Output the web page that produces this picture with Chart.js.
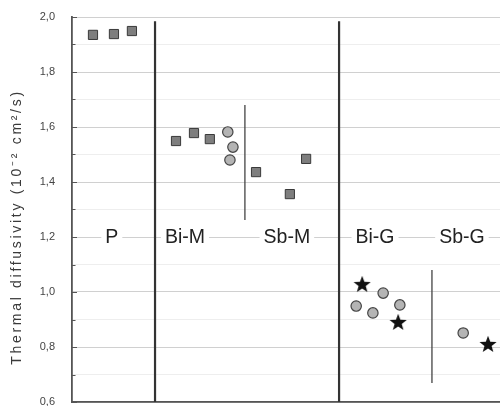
<!DOCTYPE html>
<html>
<head>
<meta charset="utf-8">
<script src="https://cdn.jsdelivr.net/npm/chart.js@4"></script>
<style>
  html, body { margin: 0; padding: 0; background: #fff; }
  #wrap { width: 500px; height: 406px; }
</style>
</head>
<body>
<div id="wrap"><canvas id="chart"></canvas></div>
<script>
// groups and their labels
const groupNames = ['P', 'Bi-M', 'Sb-M', 'Bi-G', 'Sb-G'];
const groupLabelX = [0.93, 2.64, 5.02, 7.08, 9.11];
const groupLabelY = 1.2;

// grey squares
const squareX = [0.49, 0.98, 1.40, 2.43, 2.85, 3.22, 4.30, 5.09, 5.47];
const squareY = [1.935, 1.938, 1.949, 1.549, 1.578, 1.556, 1.436, 1.356, 1.484];

// light grey circles
const circleX = [3.64, 3.76, 3.69, 6.64, 7.03, 7.27, 7.66, 9.14];
const circleY = [1.582, 1.527, 1.480, 0.949, 0.924, 0.996, 0.953, 0.851];

// black stars
const starX = [6.78, 7.62, 9.72];
const starY = [1.029, 0.891, 0.811];

// separators
const thickSepX = [1.94, 6.24];
const thickSepTop = 1.985;
const thinSepX = [4.04, 8.41];
const thinSepTop = [1.68, 1.08];
const thinSepBottom = [1.262, 0.669];

// y axis
const yMin = 0.6, yMax = 2.0, yStep = 0.1;
const yTitle = 'Thermal diffusivity (10\u207B\u00B2 cm\u00B2/s)';

const FONT = '"Liberation Sans", Arial, sans-serif';

function pts(xs, ys) { return xs.map((x, i) => ({ x: x, y: ys[i] })); }

// filled five point star as point image
function makeStar(size) {
    const c = document.createElement('canvas');
    c.width = size; c.height = size;
    const g = c.getContext('2d');
    const cx = size / 2, cy = size / 2 + 0.8, R = size / 2, r = R * 0.42;
    g.beginPath();
    for (let i = 0; i < 10; i++) {
        const a = -Math.PI / 2 + i * Math.PI / 5;
        const rad = i % 2 === 0 ? R : r;
        g.lineTo(cx + rad * Math.cos(a), cy + rad * Math.sin(a));
    }
    g.closePath();
    g.fillStyle = '#111';
    g.fill();
    return c;
}
const starImg = makeStar(18);

const datasets = [];
thickSepX.forEach(x => datasets.push({
    type: 'line', data: [{ x: x, y: thickSepTop }, { x: x, y: yMin }],
    borderColor: '#333', borderWidth: 2.2, pointRadius: 0, order: 5
}));
thinSepX.forEach((x, i) => datasets.push({
    type: 'line', data: [{ x: x, y: thinSepTop[i] }, { x: x, y: thinSepBottom[i] }],
    borderColor: '#444', borderWidth: 1.3, pointRadius: 0, order: 5
}));
datasets.push({
    label: 'squares', data: pts(squareX, squareY), pointStyle: 'rect', pointRadius: 6.5,
    backgroundColor: '#7e7e7e', borderColor: '#3a3a3a', borderWidth: 1, order: 1
});
datasets.push({
    label: 'circles', data: pts(circleX, circleY), pointStyle: 'circle', pointRadius: 5.2,
    backgroundColor: '#b4b4b4', borderColor: '#444', borderWidth: 1.2, order: 1
});
datasets.push({
    label: 'stars', data: pts(starX, starY), pointStyle: starImg, pointRadius: 9,
    order: 1
});

// group labels with white box behind, inward tick marks, axis title
const annotate = {
    id: 'annotate',
    afterDraw(chart) {
        const { ctx, scales: { x, y }, chartArea } = chart;
        ctx.save();
        // inward ticks
        ctx.strokeStyle = '#555';
        ctx.lineWidth = 1;
        for (let v = yMin; v <= yMax + 1e-9; v += yStep) {
            const py = Math.round(y.getPixelForValue(v)) + 0.5;
            const major = Math.round(v * 10) % 2 === 0;
            ctx.beginPath();
            ctx.moveTo(chartArea.left, py);
            ctx.lineTo(chartArea.left + (major ? 5 : 3.5), py);
            ctx.stroke();
        }
        ctx.font = '19.5px ' + FONT;
        ctx.textAlign = 'center';
        ctx.textBaseline = 'middle';
        groupNames.forEach((name, i) => {
            const px = x.getPixelForValue(groupLabelX[i]);
            const py = y.getPixelForValue(groupLabelY);
            const w = ctx.measureText(name).width;
            ctx.fillStyle = '#fff';
            ctx.fillRect(px - w / 2 - 4, py - 11, w + 8, 22);
            ctx.fillStyle = '#222';
            ctx.fillText(name, px, py + 1);
        });
        // y title, spaced out like the original
        ctx.translate(17, 227);
        ctx.rotate(-Math.PI / 2);
        ctx.font = '14px ' + FONT;
        ctx.letterSpacing = '2.7px';
        ctx.fillStyle = '#3a3a3a';
        ctx.fillText(yTitle, 0, 0);
        ctx.restore();
    }
};

new Chart(document.getElementById('chart'), {
    type: 'scatter',
    data: { datasets: datasets },
    plugins: [annotate],
    options: {
        responsive: true,
        maintainAspectRatio: false,
        animation: false,
        layout: { autoPadding: false, padding: { top: 17, right: 0, bottom: 0, left: 0 } },
        plugins: { legend: { display: false }, tooltip: { enabled: false } },
        scales: {
            x: {
                type: 'linear', min: 0, max: 10,
                ticks: { display: false },
                grid: { display: false },
                border: { display: true, color: '#555', width: 1.8 },
                afterFit(scale) {
                    scale.height = 4;
                    scale.paddingLeft = 0; scale.paddingRight = 0;
                }
            },
            y: {
                type: 'linear', min: yMin, max: yMax,
                ticks: {
                    stepSize: yStep,
                    padding: 3,
                    color: '#444',
                    font: { family: FONT, size: 11 },
                    callback: v => (Math.round(v * 10) % 2 === 0 ? v.toFixed(1).replace('.', ',') : '')
                },
                grid: {
                    drawTicks: true,
                    tickLength: 14,
                    tickColor: 'rgba(0,0,0,0)',
                    borderDash: [1, 3],
                    color: ctx => (Math.round(ctx.tick.value * 10) % 2 === 0 ? 'rgba(150,150,150,0.45)' : 'rgba(200,200,200,0.3)')
                },
                border: { display: true, color: '#555', width: 1.8 },
                afterFit(scale) {
                    scale.width = 72;
                    scale.paddingTop = 0; scale.paddingBottom = 0;
                }
            }
        }
    }
});
</script>
</body>
</html>
